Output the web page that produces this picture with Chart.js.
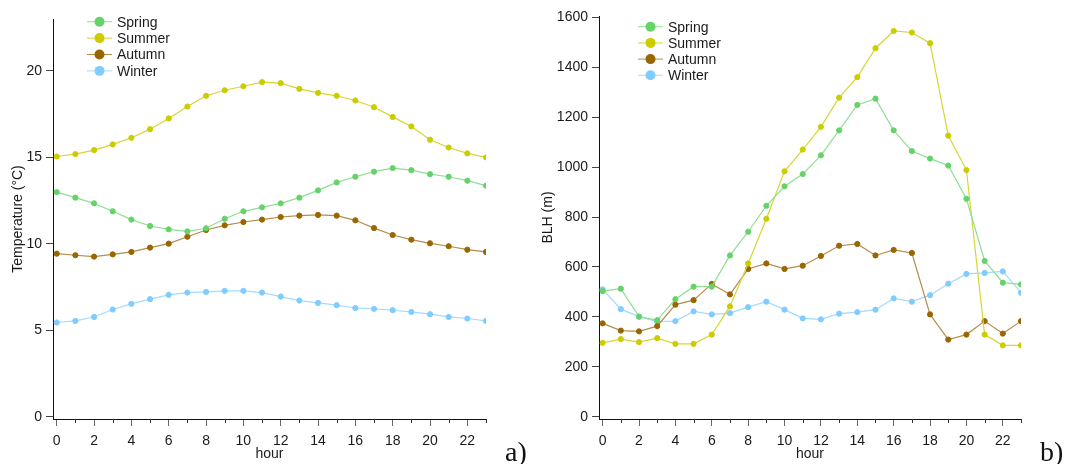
<!DOCTYPE html>
<html>
<head>
<meta charset="utf-8">
<title>Temperature and BLH by hour</title>
<script src="https://cdn.jsdelivr.net/npm/chart.js@4/dist/chart.umd.min.js"></script>
<style>
	body{margin:0;background:#fff;width:1065px;height:464px;overflow:hidden;position:relative;}
	.box{position:absolute;top:0;width:530px;height:464px;}
	#boxA{left:0;}
	#boxB{left:535px;}
	.tag{position:absolute;top:438px;font-family:"Liberation Serif","DejaVu Serif",serif;font-size:28px;line-height:28px;color:#111;}
</style>
</head>
<body>
<div id="boxA" class="box"><canvas id="chartA" width="530" height="464"></canvas></div>
<div id="boxB" class="box"><canvas id="chartB" width="530" height="464"></canvas></div>
<div class="tag" style="left:505px">a)</div>
<div class="tag" style="left:1040px">b)</div>
<script>
var hours = [0,1,2,3,4,5,6,7,8,9,10,11,12,13,14,15,16,17,18,19,20,21,22,23];
var hourTicks = [0,2,4,6,8,10,12,14,16,18,20,22];
var seasons = ['Spring','Summer','Autumn','Winter'];

// temperature (°C)
var tempSpring = [12.99,12.67,12.34,11.88,11.40,11.03,10.84,10.72,10.90,11.45,11.88,12.11,12.34,12.67,13.09,13.55,13.88,14.17,14.38,14.26,14.03,13.88,13.65,13.36];
var tempSummer = [15.05,15.19,15.42,15.75,16.13,16.63,17.25,17.94,18.56,18.88,19.11,19.35,19.29,18.96,18.73,18.56,18.29,17.90,17.34,16.79,16.02,15.57,15.23,15.00];
var tempAutumn = [9.43,9.34,9.26,9.39,9.53,9.78,10.01,10.41,10.80,11.07,11.26,11.40,11.55,11.63,11.67,11.63,11.36,10.91,10.51,10.24,10.03,9.86,9.66,9.53];
var tempWinter = [5.45,5.54,5.77,6.20,6.53,6.80,7.05,7.18,7.22,7.28,7.28,7.18,6.95,6.72,6.58,6.45,6.29,6.24,6.16,6.06,5.93,5.77,5.68,5.54];
var tempTicks = [0,5,10,15,20];

// boundary layer height (m)
var blhSpring = [503,513,401,387,471,521,521,646,741,845,923,972,1047,1147,1249,1274,1147,1064,1034,1006,873,624,537,530];
var blhSummer = [296,311,299,315,292,292,329,442,614,793,983,1070,1161,1278,1360,1476,1545,1539,1496,1126,988,329,286,286];
var blhAutumn = [374,345,342,363,449,467,532,490,592,614,592,605,644,685,692,646,668,656,410,309,329,383,333,383];
var blhWinter = [510,431,401,381,383,422,410,415,439,461,429,394,390,413,419,429,474,461,487,533,572,576,582,497];
var blhTicks = [0,200,400,600,800,1000,1200,1400,1600];

var markColors = ['#66d36a','#cccc00','#996600','#80ccff'];
var lineColors = ['#8fdf92','#d6d633','#b58d4c','#a3dbff'];

var fontName = '"Liberation Sans", Arial, sans-serif';

// short unlabeled ticks on odd hours
var minorTicks = {
	id: 'minorTicks',
	afterDraw: function(chart) {
		var sx = chart.scales.x, ctx = chart.ctx, bottom = chart.chartArea.bottom;
		ctx.save();
		ctx.strokeStyle = '#333';
		ctx.lineWidth = 1;
		hours.forEach(function(h) {
			if (h % 2 === 1) {
				var px = Math.round(sx.getPixelForValue(h)) + 0.5;
				ctx.beginPath();
				ctx.moveTo(px, bottom);
				ctx.lineTo(px, bottom + 4);
				ctx.stroke();
			}
		});
		ctx.restore();
	}
};

// legend in the upper left: line with a dot, then the name
var seasonLegend = {
	id: 'seasonLegend',
	afterDraw: function(chart, args, opts) {
		var ctx = chart.ctx;
		ctx.save();
		ctx.font = '14px ' + fontName;
		ctx.textBaseline = 'middle';
		ctx.textAlign = 'left';
		chart.data.datasets.forEach(function(ds, i) {
			var y = opts.y + i * opts.gap;
			ctx.strokeStyle = ds.borderColor;
			ctx.lineWidth = 1;
			ctx.beginPath();
			ctx.moveTo(opts.x, y);
			ctx.lineTo(opts.x + 25, y);
			ctx.stroke();
			ctx.fillStyle = ds.pointBackgroundColor;
			ctx.beginPath();
			ctx.arc(opts.x + 12.5, y, 5, 0, Math.PI * 2);
			ctx.fill();
			ctx.fillStyle = '#1a1a1a';
			ctx.fillText(ds.label, opts.x + 30, y + 1);
		});
		ctx.restore();
	}
};

function makeSets(values) {
	return values.map(function(v, i) {
		return {
			label: seasons[i],
			data: v,
			borderColor: lineColors[i],
			borderWidth: 1.2,
			pointBackgroundColor: markColors[i],
			pointBorderColor: markColors[i],
			pointBorderWidth: 1,
			pointRadius: 2.6,
			tension: 0
		};
	});
}

function makeChart(id, values, yTicks, yMin, yMax, yTitle, yWidth, yTitlePad, padTop, legend) {
	return new Chart(document.getElementById(id), {
		type: 'line',
		data: { labels: hours, datasets: makeSets(values) },
		plugins: [minorTicks, seasonLegend],
		options: {
			responsive: false,
			animation: false,
			layout: { padding: { top: padTop, right: 44, left: 0, bottom: 0 } },
			plugins: {
				legend: { display: false },
				tooltip: { enabled: false },
				seasonLegend: legend
			},
			scales: {
				x: {
					type: 'linear',
					min: -0.2,
					max: 23,
					afterBuildTicks: function(s) { s.ticks = hourTicks.map(function(v) { return { value: v }; }); },
					afterFit: function(s) { s.height = 45; },
					border: { color: '#111', width: 1 },
					grid: { drawOnChartArea: false, tickLength: 7, color: '#666' },
					ticks: { color: '#1a1a1a', padding: 7, maxRotation: 0, font: { family: fontName, size: 14 },
						callback: function(v) { return String(v); } },
					title: { display: true, text: 'hour', color: '#1a1a1a', padding: { top: 0, bottom: 1 }, font: { family: fontName, size: 14 } }
				},
				y: {
					min: yMin,
					max: yMax,
					afterBuildTicks: function(s) { s.ticks = yTicks.map(function(v) { return { value: v }; }); },
					afterFit: function(s) { s.width = yWidth; },
					border: { color: '#111', width: 1 },
					grid: { drawOnChartArea: false, tickLength: 7, color: '#444' },
					ticks: { color: '#1a1a1a', padding: 4, font: { family: fontName, size: 14 },
						callback: function(v) { return String(v); } },
					title: { display: true, text: yTitle, color: '#1a1a1a', padding: { top: yTitlePad, bottom: 0 }, font: { family: fontName, size: 14 } }
				}
			}
		}
	});
}

makeChart('chartA', [tempSpring, tempSummer, tempAutumn, tempWinter], tempTicks, -0.13, 23,
	'Temperature (°C)', 53, 10, 19, { x: 87, y: 21.7, gap: 16.4 });
makeChart('chartB', [blhSpring, blhSummer, blhAutumn, blhWinter], blhTicks, -9, 1605,
	'BLH (m)', 64, 5, 16, { x: 103, y: 26.7, gap: 16.2 });
</script>
</body>
</html>
